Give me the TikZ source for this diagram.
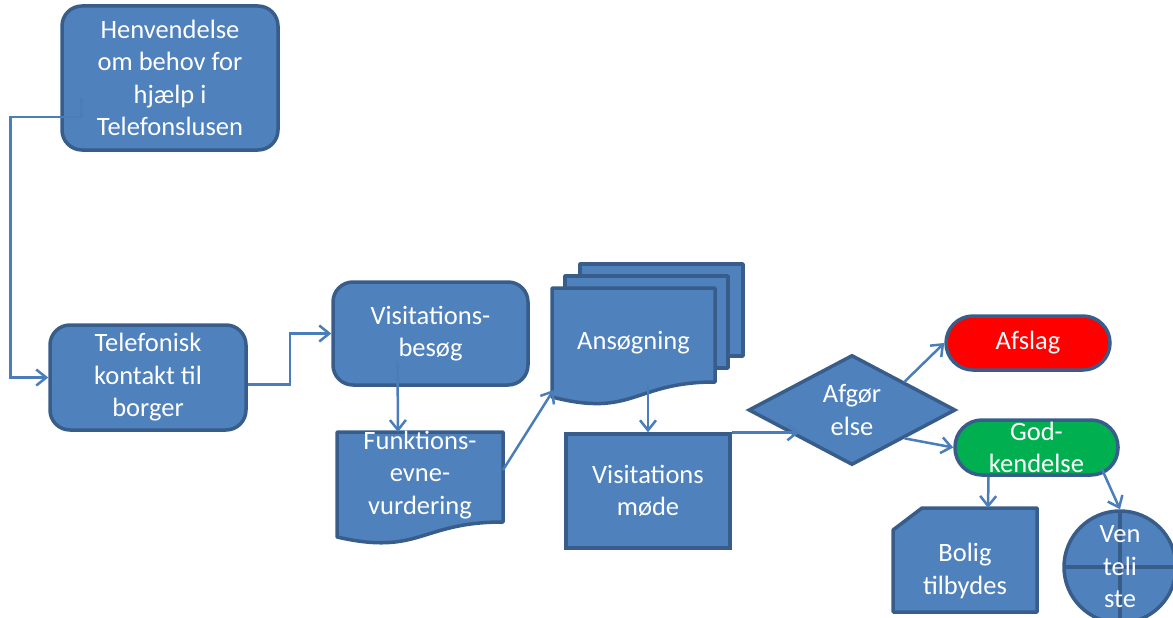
\documentclass[tikz,border=0pt]{standalone}
\usepackage{fontspec}
\setmainfont{Carlito}
\usetikzlibrary{arrows.meta,calc,shapes.geometric,backgrounds}
\definecolor{boxblue}{HTML}{4F81BD}
\definecolor{boxedge}{HTML}{385D8A}
\definecolor{linkblue}{HTML}{4A7EBB}
\definecolor{okgreen}{HTML}{00B050}
\tikzset{
  txt/.style={text=white, align=center, font=\fontsize{26.5}{32.5}\selectfont, inner sep=0pt},
  boxshape/.style={txt, draw=boxedge, fill=boxblue, line width=3.5pt},
  roundbox/.style={boxshape, rounded corners=20pt},
  termbox/.style={boxshape, rounded corners=27pt},
  docfill/.style={draw=boxedge, fill=boxblue, line width=3.5pt, line join=round},
  link/.style={draw=linkblue, line width=2.5pt, -{Straight Barb[length=10pt,width=16pt]}}
}
\begin{document}
\begin{tikzpicture}[x=1pt,y=-1pt]
\useasboundingbox (0,0) rectangle (1173,618);
\node[roundbox, minimum width=216pt, minimum height=144pt] (hv) at (170,78) {Henvendelse\\om behov for\\hjælp i\\Telefonslusen};
\node[roundbox, minimum width=196pt, minimum height=105pt] (tk) at (148,377.5) {Telefonisk\\kontakt til\\borger};
\node[roundbox, minimum width=195pt, minimum height=103pt] (vb) at (430.5,333.5) {Visitations-\\besøg};
\node[txt, minimum width=166pt, minimum height=86pt] (fkt) at (420,475) {Funktions-\\evne-\\vurdering};
\node[txt, minimum width=163pt, minimum height=110pt] (ans) at (633.5,343) {Ansøgning};
\node[boxshape, minimum width=164pt, minimum height=114pt] (vm) at (648,491) {Visitations\\møde};
\node[boxshape, diamond, minimum width=207pt, minimum height=110pt] (af) at (852,410) {Afgør\\else};
\node[termbox, fill=red, minimum width=164pt, minimum height=54pt] (afs) at (1028,343) {Afslag};
\node[termbox, fill=okgreen, minimum width=163pt, minimum height=55pt] (gk) at (1036.5,447.5) {God-\\kendelse};
\node[txt, minimum width=144pt, minimum height=82pt] (bol) at (965,571) {Bolig\\tilbydes};
\node[boxshape, circle, minimum size=112pt,
  path picture={\draw[boxedge, line width=3.5pt]
    (path picture bounding box.north) -- (path picture bounding box.south)
    (path picture bounding box.west) -- (path picture bounding box.east);}] (vl) at (1120,567) {Ven\\teli\\ste};
\begin{scope}[on background layer]
\draw[docfill] ($(fkt.center)+(-83,-43)$) -- ($(fkt.center)+(83,-43)$) -- ($(fkt.center)+(83,47)$)
  .. controls ($(fkt.center)+(0,47)$) and ($(fkt.center)+(0,81)$) .. ($(fkt.center)+(-83,62)$) -- cycle;
\draw[docfill] ($(ans.center)+(-53.5,-79)$) rectangle ($(ans.center)+(109.5,13)$);
\draw[docfill] ($(ans.center)+(-68.5,-67)$) rectangle ($(ans.center)+(94.5,25)$);
\draw[docfill] ($(ans.center)+(-81.5,-55)$) -- ($(ans.center)+(81.5,-55)$) -- ($(ans.center)+(81.5,39)$)
  .. controls ($(ans.center)+(0,39)$) and ($(ans.center)+(0,75)$) .. ($(ans.center)+(-81.5,54)$) -- cycle;
\draw[docfill] ($(bol.center)+(-72,41)$) -- ($(bol.center)+(-72,-41)$) -- ($(bol.center)+(-43,-63)$)
  -- ($(bol.center)+(72,-63)$) -- ($(bol.center)+(72,41)$) -- cycle;
\end{scope}
\draw[link] ($(hv.west)+(21,20)$) -- ++(0,19) -- ++(-71,0) |- (tk.west);
\draw[link] ($(tk.east)+(0,7)$) -- ++(42,0) |- (vb.west);
\draw[link] ($(vb.south)+(-33,-25)$) -- ($(fkt.center)+(-22,-43)$);
\draw[link] ($(fkt.center)+(83,-5)$) -- ($(ans.center)+(-80,47)$);
\draw[link] ($(ans.center)+(14.5,42)$) -- (vm.north);
\draw[link] (vm.north east) -- (vm.north east -| af.south west);
\draw[link] (af.north east) -- (afs.west);
\draw[link] (af.south east) -- (gk.west);
\draw[link] ($(gk.south)+(-48,0)$) -- ($(bol.center)+(23,-63)$);
\draw[link] ($(gk.south east)+(-18,-8)$) -- (vl.north);
\end{tikzpicture}
\end{document}
